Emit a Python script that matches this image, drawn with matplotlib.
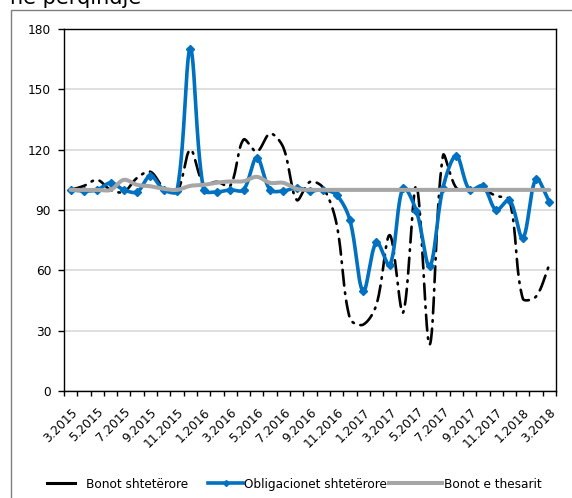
import numpy as np
import matplotlib
matplotlib.use("Agg")
import matplotlib.pyplot as plt
from matplotlib.lines import Line2D
from matplotlib.patches import Rectangle
from matplotlib.ticker import FixedLocator, NullFormatter

plt.rcParams['font.family'] = ['DejaVu Sans']

# Monthly periods, March 2015 - March 2018
months = [f"{(m - 1) % 12 + 1}.{2015 + (m - 1) // 12}" for m in range(3, 40)]

# Index values (in percent)
bonot_shteterore = [100, 102, 105, 100, 99, 106, 109, 101, 99, 120,
                    103, 104, 102, 125, 119, 128, 121, 95, 104, 101,
                    83, 36, 33, 43, 77.5, 39, 102, 23, 117, 101,
                    100, 100, 97, 95, 46, 47, 63]
obligacionet = [100, 99.5, 100, 103.5, 100, 99, 107, 100, 99.5, 170,
                100, 99, 100, 100, 116, 100, 99.5, 101, 99.5, 100,
                97.5, 85, 49.5, 74, 62.5, 101, 89.5, 62, 101, 117,
                100, 102, 90, 95, 76, 105.5, 94]
bonot_thesarit = [100, 100, 100, 100, 105, 102.5, 101.8, 100.5, 100, 102,
                  102.5, 103.6, 104.2, 104.3, 106.5, 103.5, 103.5, 100.5, 100, 100,
                  100, 100, 100, 100, 100, 100, 100, 100, 100, 100,
                  100, 100, 100, 100, 100, 100, 100]

series_names = ["Bonot shtetërore", "Obligacionet shtetërore", "Bonot e thesarit"]
y_ticks = [0, 30, 60, 90, 120, 150, 180]
title_text = "në përqindje"

W, H = 572, 498
AX_LEFT, AX_TOP, AX_W, AX_H = 64, 29, 492, 362


def smooth(values, steps=30):
    """Bezier smoothing through the points, with control arms scaled by the
    neighbouring chord lengths measured in screen space."""
    v = np.asarray(values, dtype=float)
    n = len(v)
    sx = AX_W / n
    sy = AX_H / 180.0
    P = np.column_stack([np.arange(n) * sx, v * sy])
    E = np.vstack([P[0], P, P[-1]])
    t = np.linspace(0, 1, steps, endpoint=False)[:, None]
    out = []
    for i in range(n - 1):
        p0, p1, p2, p3 = E[i], E[i + 1], E[i + 2], E[i + 3]
        d01 = np.hypot(*(p1 - p0))
        d12 = np.hypot(*(p2 - p1))
        d23 = np.hypot(*(p3 - p2))
        a = d12 / (d01 + d12) if d01 + d12 > 0 else 0.5
        b = d12 / (d12 + d23) if d12 + d23 > 0 else 0.5
        c1 = p1 + (p2 - p0) * a / 3
        c2 = p2 - (p3 - p1) * b / 3
        pts = ((1 - t) ** 3) * p1 + 3 * ((1 - t) ** 2) * t * c1 \
            + 3 * (1 - t) * t ** 2 * c2 + t ** 3 * p2
        out.append(pts)
    out.append(P[-1][None, :])
    out = np.vstack(out)
    return out[:, 0] / sx, out[:, 1] / sy


fig = plt.figure(figsize=(W / 100, H / 100), dpi=100)

# outer chart frame
fig.patches.append(Rectangle((11 / W, -0.05), 1.2, 1 - 10 / H + 0.05,
                             transform=fig.transFigure, fill=False,
                             edgecolor='#7F7F7F', linewidth=1.0))
fig.text(10 / W, 1 - 4 / H, title_text, fontsize=15, ha='left', va='baseline')

ax = fig.add_axes([AX_LEFT / W, 1 - (AX_TOP + AX_H) / H, AX_W / W, AX_H / H])

black = '#000000'
blue = '#0070C0'
grey = '#A6A6A6'

x = np.arange(len(months))

xs, ys = smooth(bonot_shteterore)
ax.plot(xs, ys, color=black, lw=1.9, linestyle=(0, (6, 2.6, 0.6, 2.6)),
        dash_capstyle='round', zorder=3)

xs, ys = smooth(obligacionet)
ax.plot(xs, ys, color=blue, lw=2.6, solid_capstyle='round', zorder=4)
ax.plot(x, obligacionet, linestyle='none', marker='D', markersize=4.5,
        color=blue, zorder=5)

xs, ys = smooth(bonot_thesarit)
ax.plot(xs, ys, color=grey, lw=2.9, solid_capstyle='round', zorder=6)

ax.set_xlim(-0.5, len(months) - 0.5)
ax.set_ylim(0, 180)
ax.set_yticks(y_ticks)
ax.yaxis.grid(True, color='#D9D9D9', lw=1.2)
ax.set_axisbelow(True)
ax.tick_params(axis='y', direction='out', length=4.3, width=1, pad=5,
               labelsize=8.7, color=black)

ax.set_xticks(x[::2])
ax.set_xticklabels(months[::2], rotation=45, ha='right', va='top',
                   rotation_mode='anchor', fontsize=8.7)
ax.xaxis.set_minor_locator(FixedLocator(np.arange(-0.5, len(months), 1.0)))
ax.xaxis.set_minor_formatter(NullFormatter())
ax.tick_params(axis='x', which='major', length=0, pad=10.5)
ax.tick_params(axis='x', which='minor', direction='out', length=3.6, width=1,
               color=black)

for s in ax.spines.values():
    s.set_color(black)
    s.set_linewidth(1.0)

# legend entries along the bottom
fs = 8.7
em = fs * 100 / 72
legend_specs = [
    (Line2D([], [], color=black, lw=2.2), 47, 28, 11),
    (Line2D([], [], color=blue, lw=2.6, marker='D', markersize=3), 208, 35, 1.5),
    (Line2D([], [], color=grey, lw=2.9), 389, 53, 1.5),
]
for (handle, x0, hlen, gap), name in zip(legend_specs, series_names):
    leg = fig.legend([handle], [name], loc='center left',
                     bbox_to_anchor=(x0 / W, 1 - 484 / H), frameon=False,
                     fontsize=fs, handlelength=hlen / em, handletextpad=gap / em,
                     borderpad=0, borderaxespad=0)

fig.savefig('out.png', dpi=100)
